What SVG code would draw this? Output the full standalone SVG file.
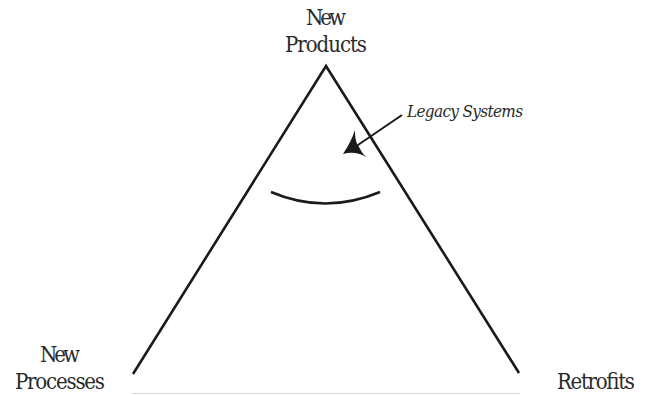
<svg xmlns="http://www.w3.org/2000/svg" width="647" height="395" viewBox="0 0 647 395">
<style>
.lbl{font-family:"DejaVu Serif Condensed","DejaVu Serif","Liberation Serif",serif;font-stretch:condensed;font-size:22px;fill:#2a2a2a;text-anchor:middle}
.it{font-family:"DejaVu Serif Condensed","DejaVu Serif","Liberation Serif",serif;font-stretch:condensed;font-style:italic;font-size:17px;fill:#2a2a2a}
.ln{stroke:#1a1a1a;stroke-width:2.6;fill:none;stroke-linecap:butt}
</style>
<rect width="647" height="395" fill="#fff"/>
<g id="connectors">
<polyline class="ln" points="133,374 326,66 519,373" stroke-linejoin="miter"/>
<line x1="132" y1="393.5" x2="520" y2="393.5" stroke="#d8d8d8" stroke-width="1"/>
<path class="ln" d="M271,192 Q325,215 380,192"/>
<line x1="402" y1="115" x2="355" y2="147" stroke="#1a1a1a" stroke-width="2"/>
<path d="M343,154 C348,146 352,139 355,130 C355,138 356,143 359,147 C361,151 363,154 366,157 C358,152 350,152 343,154 Z" fill="#1a1a1a"/>
</g>
<g id="new-products"><text class="lbl" x="326" y="25" textLength="40">New</text><text class="lbl" x="326" y="52" textLength="82">Products</text></g>
<g id="new-processes"><text class="lbl" x="60" y="362" textLength="40">New</text><text class="lbl" x="60" y="389" textLength="90">Processes</text></g>
<g id="retrofits"><text class="lbl" x="596" y="389" textLength="78">Retrofits</text></g>
<g id="legacy-systems"><text class="it" x="407" y="117" textLength="116">Legacy Systems</text></g>
</svg>
